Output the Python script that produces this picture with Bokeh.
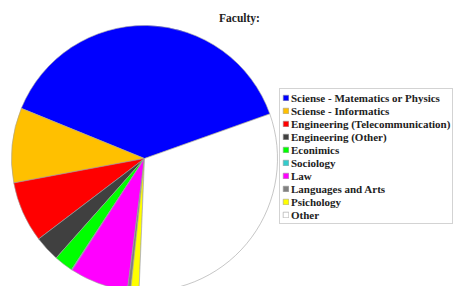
import numpy as np
from bokeh.plotting import figure
from bokeh.models import ColumnDataSource, Range1d, Legend, LegendItem, Label
from bokeh.embed import file_html
from bokeh.resources import INLINE

# ---- data ----
faculties = [
    "Sciense - Matematics or Physics",
    "Sciense - Informatics",
    "Engineering (Telecommunication)",
    "Engineering (Other)",
    "Econimics",
    "Sociology",
    "Law",
    "Languages and Arts",
    "Psichology",
    "Other",
]
shares = [38.4, 9.1, 7.4, 3.1, 2.3, 0.1, 7.1, 0.4, 1.0, 31.1]
colors = ["#0000ff", "#ffc000", "#ff0000", "#404040", "#00ff00",
          "#33cccc", "#ff00ff", "#808080", "#ffff00", "#ffffff"]

start_deg = 19.6

vals = np.array(shares, dtype=float)
ang = vals / vals.sum() * 2 * np.pi
ends = np.radians(start_deg) + np.cumsum(ang)
starts = ends - ang

src = ColumnDataSource(dict(name=faculties, start=starts, end=ends, color=colors))

FONT = "Liberation Serif"

W, H = 454, 286
p = figure(width=W, height=H, output_backend="svg", toolbar_location=None,
           x_range=Range1d(0, W), y_range=Range1d(-H, 0),
           x_axis_type=None, y_axis_type=None, min_border=0,
           outline_line_color=None)
p.grid.visible = False

r = p.wedge(x=144, y=-158, radius=133, start_angle="start", end_angle="end",
            fill_color="color", line_color="#a0a0a0", line_width=0.6, source=src)

items = [LegendItem(label=n, renderers=[r], index=i) for i, n in enumerate(faculties)]
leg = Legend(items=items, location=(279, 62), padding=2, spacing=0, margin=0,
             label_height=13, glyph_height=7, glyph_width=7, label_standoff=2,
             label_text_font=FONT, label_text_font_style="bold",
             label_text_font_size="11px", label_text_color="#222222",
             border_line_color="#a8a8a8", border_line_width=1,
             background_fill_color="white", background_fill_alpha=1.0)
p.add_layout(leg)

p.add_layout(Label(x=239, y=-17, text="Faculty:", text_align="center",
                   text_baseline="middle", text_font=FONT,
                   text_font_style="bold", text_font_size="11.5px",
                   text_color="#222222"))

open("out.html", "w").write(file_html(p, INLINE))
